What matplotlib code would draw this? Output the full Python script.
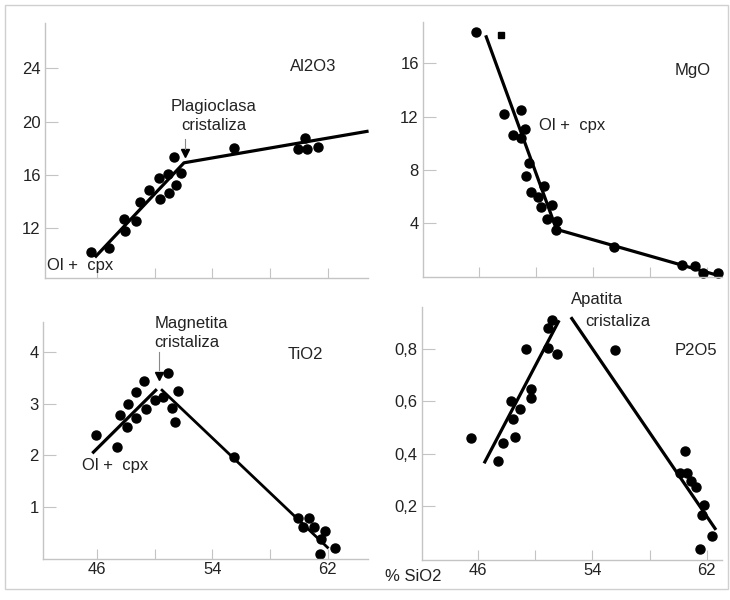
import matplotlib.pyplot as plt
import matplotlib.patches as mpatches

plt.rcParams['font.family'] = ['Liberation Sans', 'DejaVu Sans']

# Al2O3
al_sio2 = [45.56, 46.83, 47.9, 47.94, 48.7, 49.0, 49.6, 50.33, 50.38, 50.95, 51.0, 51.35, 51.47, 51.8,
           55.5, 59.98, 60.44, 60.6, 61.33]
al_val = [10.18, 10.48, 12.65, 11.8, 12.5, 13.95, 14.85, 15.73, 14.18, 16.05, 14.6, 17.35, 15.2, 16.1,
          17.98, 17.95, 18.73, 17.93, 18.1]
al_line_x = [45.86, 52.04, 64.84]
al_line_y = [9.8, 16.9, 19.28]

# MgO
mg_sio2 = [45.84, 47.75, 48.95, 48.39, 48.95, 49.23, 49.5, 49.28, 49.67, 50.16, 50.56, 50.4, 51.17,
           50.82, 51.52, 51.45, 55.5, 60.27, 61.16, 61.7, 62.75]
mg_val = [18.35, 12.23, 12.53, 10.62, 10.4, 11.07, 8.52, 7.55, 6.35, 5.93, 6.8, 5.22, 5.37,
          4.3, 4.17, 3.47, 2.18, 0.85, 0.8, 0.27, 0.22]
mg_sq_x = [47.54]
mg_sq_y = [18.1]
mg_line_x = [46.49, 51.45, 63.0]
mg_line_y = [18.1, 3.53, 0.0]

# TiO2
ti_sio2 = [45.93, 47.37, 47.6, 48.13, 48.06, 48.7, 48.7, 49.26, 49.38, 50.05, 50.6, 50.9, 51.19, 51.42,
           51.6, 55.47, 59.94, 60.28, 60.72, 61.05, 61.53, 61.85, 61.49, 62.48]
ti_val = [2.39, 2.17, 2.78, 3.0, 2.54, 3.22, 2.72, 3.44, 2.9, 3.07, 3.12, 3.59, 2.91, 2.64,
          3.25, 1.97, 0.78, 0.61, 0.79, 0.62, 0.39, 0.54, 0.1, 0.2]
ti_line1_x = [45.67, 50.15]
ti_line1_y = [2.04, 3.28]
ti_line2_x = [50.44, 62.06]
ti_line2_y = [3.28, 0.2]

# P2O5
p_sio2 = [45.56, 47.38, 47.78, 48.34, 48.48, 48.6, 48.97, 49.37, 49.7, 49.72, 50.89, 50.93, 51.17, 51.52,
          55.61, 60.1, 60.5, 60.6, 60.88, 61.23, 61.81, 61.67, 61.53, 62.33]
p_val = [0.458, 0.371, 0.439, 0.601, 0.531, 0.462, 0.571, 0.798, 0.646, 0.614, 0.878, 0.803, 0.911, 0.779,
         0.794, 0.327, 0.411, 0.325, 0.295, 0.271, 0.204, 0.166, 0.037, 0.087]
p_line1_x = [46.44, 51.68]
p_line1_y = [0.363, 0.909]
p_line2_x = [52.5, 62.63]
p_line2_y = [0.921, 0.109]

x_ticks = [46, 50, 54, 58, 62]
x_labels = ['46', '', '54', '', '62']

fig = plt.figure(figsize=(7.3, 6), dpi=100)
fig.patches.append(mpatches.Rectangle((0.007, 0.018), 0.99, 0.974, transform=fig.transFigure,
                                      fill=False, edgecolor='#d0d0d0', lw=1))

gray = '#c4c4c4'
txt = '#222222'
fs = 12


def style(ax, xlim, ylim, yticks, ylabels, bottom_labels):
    ax.set_xlim(xlim)
    ax.set_ylim(ylim)
    for s in ['top', 'right']:
        ax.spines[s].set_visible(False)
    for s in ['left', 'bottom']:
        ax.spines[s].set_color(gray)
        ax.spines[s].set_linewidth(1)
    ax.set_xticks(x_ticks)
    ax.set_xticklabels(x_labels if bottom_labels else [''] * 5)
    ax.set_yticks(yticks)
    ax.set_yticklabels(ylabels)
    ax.tick_params(direction='in', color=gray, labelcolor=txt, labelsize=fs)
    ax.tick_params(axis='y', length=9, pad=3)
    ax.tick_params(axis='x', length=7, pad=2)
    ax.patch.set_alpha(0)


def pts(ax, x, y):
    ax.plot(x, y, 'o', color='black', ms=6.5, mec='black')


ax1 = fig.add_axes([0.0616, 0.5367, 0.4425, 0.425])
style(ax1, (42.4, 64.8), (8.25, 27.4), [12, 16, 20, 24], ['12', '16', '20', '24'], False)
ax1.plot(al_line_x, al_line_y, color='black', lw=2.3, solid_capstyle='butt')
pts(ax1, al_sio2, al_val)
ax1.plot([52.13], [17.6], 'v', color='black', ms=6)
ax1.plot([52.13, 52.13], [17.9, 18.7], color='#888888', lw=0.8)
ax1.text(54.1, 21.15, 'Plagioclasa', ha='center', va='center', fontsize=fs, color=txt)
ax1.text(54.1, 19.7, 'cristaliza', ha='center', va='center', fontsize=fs, color=txt)
ax1.text(59.4, 24.1, 'Al2O3', fontsize=fs, color=txt, va='center')
ax1.text(42.55, 9.2, 'Ol +  cpx', fontsize=fs, color=txt, va='center')

ax2 = fig.add_axes([0.5795, 0.5383, 0.4096, 0.425])
style(ax2, (42.1, 63.05), (-0.05, 19.1), [4, 8, 12, 16], ['4', '8', '12', '16'], False)
ax2.plot(mg_line_x, mg_line_y, color='black', lw=2.3, solid_capstyle='butt')
pts(ax2, mg_sio2, mg_val)
ax2.plot(mg_sq_x, mg_sq_y, 's', color='black', ms=5)
ax2.text(59.75, 15.45, 'MgO', fontsize=fs, color=txt, va='center')
ax2.text(50.2, 11.3, 'Ol +  cpx', fontsize=fs, color=txt, va='center')

ax3 = fig.add_axes([0.0589, 0.0683, 0.4452, 0.395])
style(ax3, (42.25, 64.8), (-0.006, 4.58), [1, 2, 3, 4], ['1', '2', '3', '4'], True)
ax3.plot(ti_line1_x, ti_line1_y, color='black', lw=2.3, solid_capstyle='butt')
ax3.plot(ti_line2_x, ti_line2_y, color='black', lw=2.0, solid_capstyle='butt')
pts(ax3, ti_sio2, ti_val)
ax3.plot([50.3], [3.53], 'v', color='black', ms=6)
ax3.plot([50.3, 50.3], [3.65, 4.0], color='#888888', lw=0.8)
ax3.text(50.0, 4.55, 'Magnetita', ha='left', va='center', fontsize=fs, color=txt)
ax3.text(50.0, 4.18, 'cristaliza', ha='left', va='center', fontsize=fs, color=txt)
ax3.text(59.2, 3.95, 'TiO2', fontsize=fs, color=txt, va='center')
ax3.text(44.96, 1.8, 'Ol +  cpx', fontsize=fs, color=txt, va='center')

ax4 = fig.add_axes([0.578, 0.0667, 0.411, 0.4217])
style(ax4, (42.1, 63.05), (-0.006, 0.96), [0.2, 0.4, 0.6, 0.8], ['0,2', '0,4', '0,6', '0,8'], True)
ax4.plot(p_line1_x, p_line1_y, color='black', lw=2.3, solid_capstyle='butt')
ax4.plot(p_line2_x, p_line2_y, color='black', lw=2.3, solid_capstyle='butt')
pts(ax4, p_sio2, p_val)
ax4.text(52.5, 0.99, 'Apatita', fontsize=fs, color=txt, va='center')
ax4.text(53.5, 0.905, 'cristaliza', fontsize=fs, color=txt, va='center')
ax4.text(59.75, 0.795, 'P2O5', fontsize=fs, color=txt, va='center')
ax4.text(39.5, -0.07, '% SiO2', fontsize=fs, color=txt, va='center')

for ax in [ax1, ax2, ax3, ax4]:
    for ln in ax.lines:
        ln.set_clip_on(False)

fig.savefig('out.png', dpi=100)
